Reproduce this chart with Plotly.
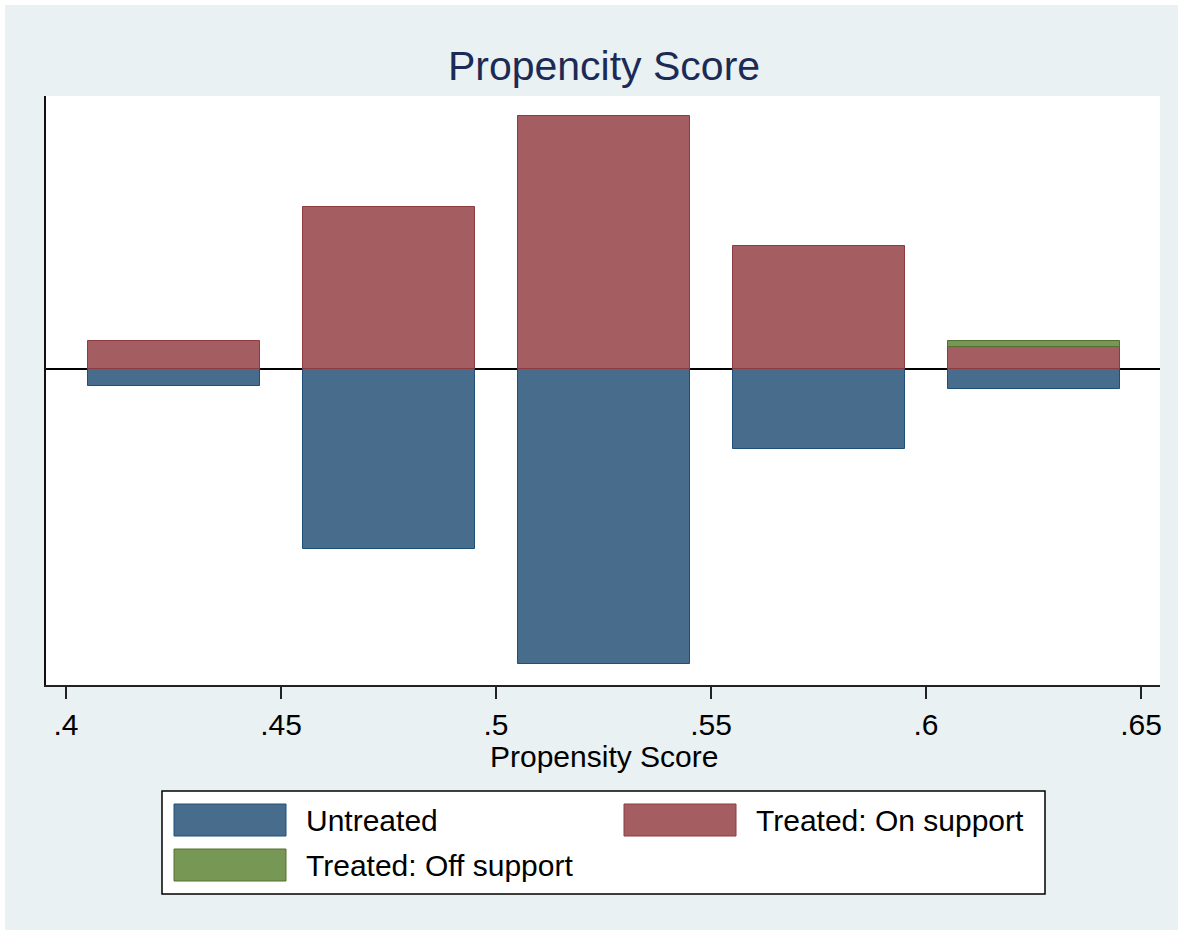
import plotly.graph_objects as go

# ---- data ----
bin_centers = [0.425, 0.475, 0.525, 0.575, 0.625]
untreated = [1.70, 18.0, 29.5, 8.0, 1.97]          # plotted below zero
treated_on = [2.83, 16.26, 25.33, 12.3, 2.26]
treated_off = [0.0, 0.0, 0.0, 0.0, 0.53]
tick_vals = [0.40, 0.45, 0.50, 0.55, 0.60, 0.65]
tick_text = [".4", ".45", ".5", ".55", ".6", ".65"]
series_names = ["Untreated", "Treated: On support", "Treated: Off support"]

# ---- styling ----
W, H = 1183, 935
L, R, T, B = 46, 23, 96, 250
BG = "#E9F1F3"
C_BLUE, C_BLUE_LINE = "#486C8C", "#1F4E79"
C_RED, C_RED_LINE = "#A45E61", "#8E3A40"
C_GREEN, C_GREEN_LINE = "#779755", "#556F33"
FONT = "Liberation Sans, Arial, sans-serif"
BIN_W = 0.04

pw, ph = W - L - R, H - T - B


def px(x):
    return (x - L) / pw


def py(y):
    return (H - B - y) / ph


def nz(vals):
    # empty bins are not drawn (avoids zero-height outlines)
    return [v if v != 0 else None for v in vals]


fig = go.Figure()
fig.add_trace(go.Bar(x=bin_centers, y=[-v for v in untreated], width=BIN_W,
                     name=series_names[0],
                     marker=dict(color=C_BLUE, line=dict(color=C_BLUE_LINE, width=1))))
fig.add_trace(go.Bar(x=bin_centers, y=nz(treated_on), width=BIN_W,
                     name=series_names[1],
                     marker=dict(color=C_RED, line=dict(color=C_RED_LINE, width=1))))
fig.add_trace(go.Bar(x=bin_centers, y=nz(treated_off), width=BIN_W,
                     name=series_names[2],
                     marker=dict(color=C_GREEN, line=dict(color=C_GREEN_LINE, width=1))))

shapes = []
annotations = []

# outer white frame
shapes.append(dict(type="rect", xref="paper", yref="paper",
                   x0=px(0), x1=px(W), y0=py(H), y1=py(0),
                   line=dict(color="white", width=10), fillcolor="rgba(0,0,0,0)",
                   layer="above"))

# legend box (drawn manually to match reference swatch sizes)
shapes.append(dict(type="rect", xref="paper", yref="paper",
                   x0=px(162), x1=px(1045), y0=py(894), y1=py(791),
                   line=dict(color="black", width=1.5), fillcolor="white",
                   layer="below"))
legend_items = [
    (174, 804, C_BLUE, C_BLUE_LINE, series_names[0]),
    (624, 804, C_RED, C_RED_LINE, series_names[1]),
    (174, 849, C_GREEN, C_GREEN_LINE, series_names[2]),
]
for (sx, sy, fc, lc, name) in legend_items:
    shapes.append(dict(type="rect", xref="paper", yref="paper",
                       x0=px(sx), x1=px(sx + 112), y0=py(sy + 32), y1=py(sy),
                       line=dict(color=lc, width=1), fillcolor=fc, layer="above"))
    annotations.append(dict(x=px(sx + 130), y=py(sy + 16), xref="paper", yref="paper",
                            text=name, showarrow=False, xanchor="left", yanchor="middle",
                            font=dict(family=FONT, size=30, color="black")))

# x axis title
annotations.append(dict(x=px(604), y=py(756), xref="paper", yref="paper",
                        text="Propensity Score", showarrow=False,
                        xanchor="center", yanchor="middle",
                        font=dict(family=FONT, size=30, color="black")))

fig.update_layout(
    width=W, height=H,
    margin=dict(l=L, r=R, t=T, b=B, pad=0),
    paper_bgcolor=BG, plot_bgcolor="white",
    barmode="relative", bargap=0,
    showlegend=False,
    title=dict(text="Propencity Score", x=604 / W, xanchor="center",
               y=1 - 66 / H, yanchor="middle", yref="container",
               font=dict(family=FONT, size=41, color="#1C2B55")),
    xaxis=dict(range=[0.39535, 0.65441], tickvals=tick_vals, ticktext=tick_text,
               ticks="outside", ticklen=12, tickwidth=1.5, tickcolor="#222",
               showline=True, linecolor="#222", linewidth=2, mirror=False,
               showgrid=False, zeroline=False,
               tickfont=dict(family=FONT, size=30, color="black")),
    yaxis=dict(range=[-31.57, 27.33], showticklabels=False, ticks="",
               showline=True, linecolor="#111", linewidth=2,
               showgrid=False, zeroline=True, zerolinecolor="black", zerolinewidth=1.5),
    shapes=shapes,
    annotations=annotations,
)

fig.write_html("out.html")
